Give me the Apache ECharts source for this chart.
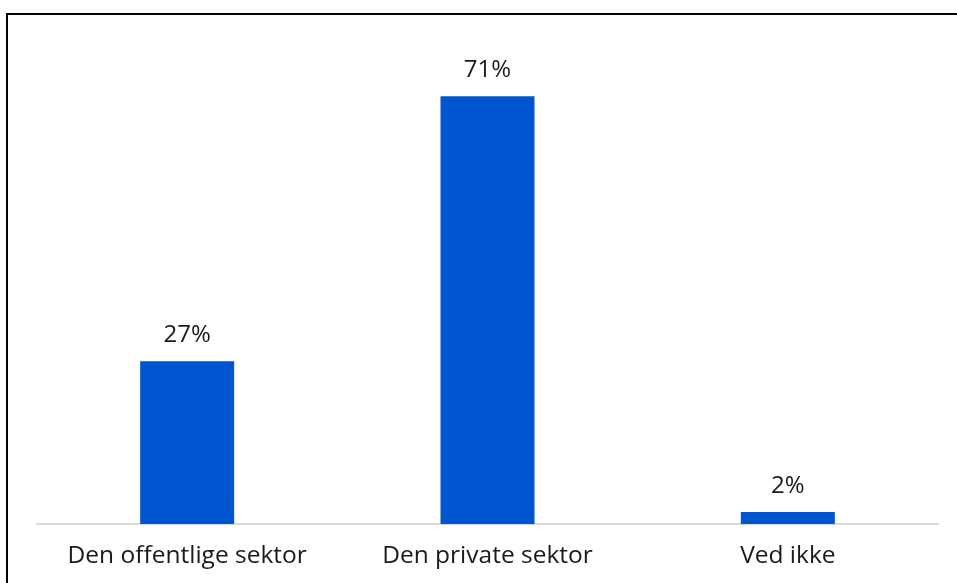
<!DOCTYPE html>
<html>
<head>
<meta charset="utf-8">
<script src="https://cdn.jsdelivr.net/npm/echarts@6/dist/echarts.min.js"></script>
<style>
  html, body { margin: 0; padding: 0; background: #fff; }
  #main { width: 957px; height: 583px; }
</style>
</head>
<body>
<div id="main"></div>
<script>
var categories = ['Den offentlige sektor', 'Den private sektor', 'Ved ikke'];
var shares = [27, 71, 2];

var chartDom = document.getElementById('main');
var myChart = echarts.init(chartDom);
var option;

option = {
    animation: false,
    graphic: [{
        type: 'rect',
        shape: { x: 7, y: 14, width: 1000, height: 1000 },
        style: { fill: 'none', stroke: '#000', lineWidth: 2 }
    }],
    grid: {
        left: 37,
        right: 19,
        top: 42,
        bottom: 59
    },
    xAxis: {
        type: 'category',
        data: categories,
        axisTick: { show: false },
        axisLine: { lineStyle: { color: '#d9d9d9', width: 2 } },
        axisLabel: {
            interval: 0,
            hideOverlap: false,
            color: '#1a1a1a',
            fontFamily: 'Open Sans',
            fontSize: 24.5,
            margin: 20
        }
    },
    yAxis: {
        type: 'value',
        min: 0,
        max: 80,
        show: false,
        splitLine: { show: false }
    },
    series: [{
        type: 'bar',
        data: shares,
        barWidth: 94,
        itemStyle: { color: '#0055d0' },
        label: {
            show: true,
            position: 'top',
            distance: 14,
            formatter: '{c}%',
            color: '#1a1a1a',
            fontFamily: 'Open Sans',
            fontSize: 24
        }
    }]
};

option && myChart.setOption(option);
</script>
</body>
</html>
